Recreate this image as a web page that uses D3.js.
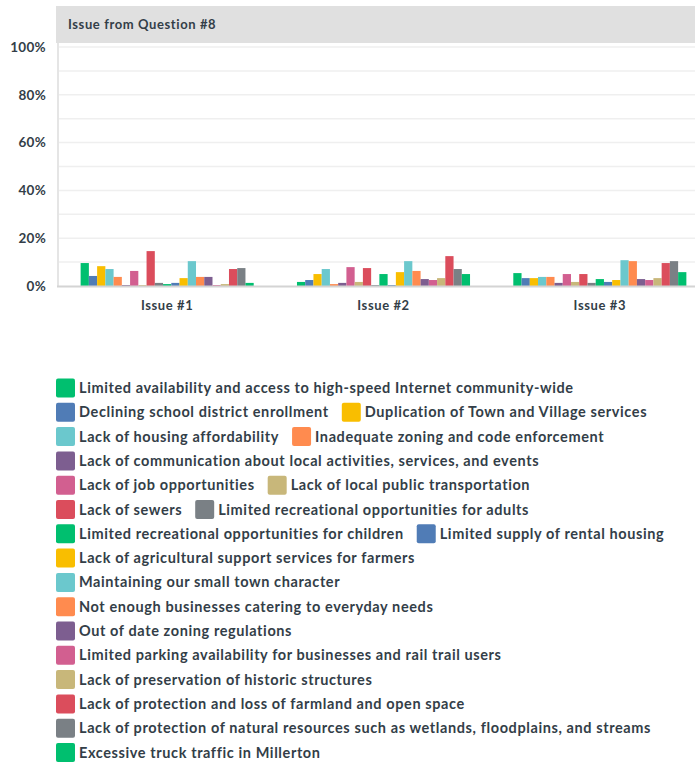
<!DOCTYPE html>
<html>
<head>
<meta charset="utf-8">
<script src="https://cdn.jsdelivr.net/npm/d3@7"></script>
<style>
  html, body { margin: 0; padding: 0; background: #fff; }
  svg { display: block; font-family: Lato, "Open Sans", sans-serif; }
</style>
</head>
<body>
<svg id="chart" width="695" height="762"></svg>
<script>
// === Data ===
const groups = ["Issue #1", "Issue #2", "Issue #3"];

const series = [
  "Limited availability and access to high-speed Internet community-wide",
  "Declining school district enrollment",
  "Duplication of Town and Village services",
  "Lack of housing affordability",
  "Inadequate zoning and code enforcement",
  "Lack of communication about local activities, services, and events",
  "Lack of job opportunities",
  "Lack of local public transportation",
  "Lack of sewers",
  "Limited recreational opportunities for adults",
  "Limited recreational opportunities for children",
  "Limited supply of rental housing",
  "Lack of agricultural support services for farmers",
  "Maintaining our small town character",
  "Not enough businesses catering to everyday needs",
  "Out of date zoning regulations",
  "Limited parking availability for businesses and rail trail users",
  "Lack of preservation of historic structures",
  "Lack of protection and loss of farmland and open space",
  "Lack of protection of natural resources such as wetlands, floodplains, and streams",
  "Excessive truck traffic in Millerton"
];

// percent values, one per series, for each issue
const issue1 = [9.6, 4.2, 8.3, 7.1, 3.8, 0.4, 6.3, 0.4, 14.6, 1.3, 0.8, 1.3, 3.3, 10.4, 3.8, 3.8, 0.4, 0.8, 7.1, 7.5, 1.3];
const issue2 = [1.7, 2.5, 5.0, 7.1, 0.8, 1.3, 7.9, 1.7, 7.5, 0.4, 5.0, 0.4, 5.8, 10.4, 6.3, 2.9, 2.5, 3.3, 12.5, 7.1, 5.0];
const issue3 = [5.4, 3.3, 3.3, 3.8, 3.8, 1.3, 5.0, 1.7, 5.0, 1.3, 2.9, 1.7, 2.5, 10.8, 10.4, 2.9, 2.5, 3.3, 9.6, 10.4, 5.8];

const yTicks = [0, 20, 40, 60, 80, 100];
const gridTicks = [10, 20, 30, 40, 50, 60, 70, 80, 90, 100];

const palette = ["#00BF6F", "#507CB6", "#F9BE00", "#6BC8CD", "#FF8B4F",
                 "#7D5E90", "#D25F90", "#C8B77A", "#DB4D5C", "#7A8085"];

const headerText = "Issue from Question #8";

// === Setup ===
const svg = d3.select("#chart");
const textColor = "#333e48";
const values = [issue1, issue2, issue3];

const plot = { left: 59, right: 708, top: 47, bottom: 286 };

const x0 = d3.scaleBand()
  .domain(groups)
  .range([plot.left, plot.right])
  .paddingInner(0.2)
  .paddingOuter(0.1);

const x1 = d3.scaleBand()
  .domain(d3.range(series.length))
  .range([0, x0.bandwidth()]);

const y = d3.scaleLinear()
  .domain([0, 100])
  .range([plot.bottom, plot.top]);

const color = d3.scaleOrdinal()
  .domain(d3.range(series.length))
  .range(d3.range(series.length).map(i => palette[i % palette.length]));

// header band
svg.append("rect")
  .attr("x", 56).attr("y", 6)
  .attr("width", 639).attr("height", 37)
  .attr("fill", "#e0e0e0");

svg.append("text")
  .attr("x", 68).attr("y", 29)
  .attr("fill", textColor)
  .style("font-size", "13px")
  .style("font-weight", "700")
  .style("letter-spacing", "0.6px")
  .text(headerText);

// gridlines
svg.append("g")
  .selectAll("line")
  .data(gridTicks)
  .join("line")
  .attr("x1", plot.left).attr("x2", 695)
  .attr("y1", d => y(d)).attr("y2", d => y(d))
  .attr("stroke", "#efefef")
  .attr("stroke-width", 1.5);

// left axis line
svg.append("line")
  .attr("x1", 58).attr("x2", 58)
  .attr("y1", 43).attr("y2", plot.bottom)
  .attr("stroke", "#dcdcdc")
  .attr("stroke-width", 1.5);

// y axis labels
const yAxis = d3.axisLeft(y)
  .tickValues(yTicks)
  .tickFormat(d => d + "%")
  .tickSize(0)
  .tickPadding(11);

const yg = svg.append("g")
  .attr("transform", `translate(${plot.left - 2},0)`)
  .call(yAxis);
yg.select(".domain").remove();
yg.selectAll("text")
  .attr("fill", textColor)
  .style("font-family", "Lato, sans-serif")
  .style("font-size", "13.5px")
  .style("font-weight", "700")
  .style("letter-spacing", "0.3px");

// bars
svg.append("g")
  .selectAll("g")
  .data(groups)
  .join("g")
  .attr("transform", d => `translate(${x0(d)},0)`)
  .selectAll("rect")
  .data((g, gi) => values[gi].map((v, i) => ({ i, v })))
  .join("rect")
  .attr("x", d => x1(d.i))
  .attr("width", x1.bandwidth())
  .attr("y", d => y(d.v))
  .attr("height", d => y(0) - y(d.v))
  .attr("fill", d => color(d.i));

// baseline
svg.append("line")
  .attr("x1", 57).attr("x2", 695)
  .attr("y1", plot.bottom + 0.5).attr("y2", plot.bottom + 0.5)
  .attr("stroke", "#d4d4d4")
  .attr("stroke-width", 2);

// x axis labels
const xAxis = d3.axisBottom(x0).tickSize(0).tickPadding(15);
const xg = svg.append("g")
  .attr("transform", `translate(0,${plot.bottom})`)
  .call(xAxis);
xg.select(".domain").remove();
xg.selectAll("text")
  .attr("fill", textColor)
  .style("font-family", "Lato, sans-serif")
  .style("font-size", "13px")
  .style("font-weight", "700")
  .style("letter-spacing", "0.6px");

// === Legend (flow layout) ===
const legend = svg.append("g").attr("class", "legend");
const legendLeft = 56, legendMax = 665, rowStart = 388, rowStep = 24.3;
const sw = 19, gap = 4, itemGap = 13;

let cx = legendLeft, row = 0;
series.forEach((name, i) => {
  const item = legend.append("g");
  const t = item.append("text")
    .attr("x", sw + gap)
    .attr("dy", "0.35em")
    .attr("fill", textColor)
    .style("font-size", "14.5px")
    .style("font-weight", "700")
    .style("letter-spacing", "0.6px")
    .text(name);
  const w = sw + gap + t.node().getComputedTextLength();
  if (cx > legendLeft && cx + w > legendMax) {
    cx = legendLeft;
    row++;
  }
  item.append("rect")
    .attr("x", 0).attr("y", -sw / 2)
    .attr("width", sw).attr("height", sw)
    .attr("rx", 2)
    .attr("fill", color(i));
  item.attr("transform", `translate(${cx},${rowStart + row * rowStep})`);
  cx += w + itemGap;
});
</script>
</body>
</html>
